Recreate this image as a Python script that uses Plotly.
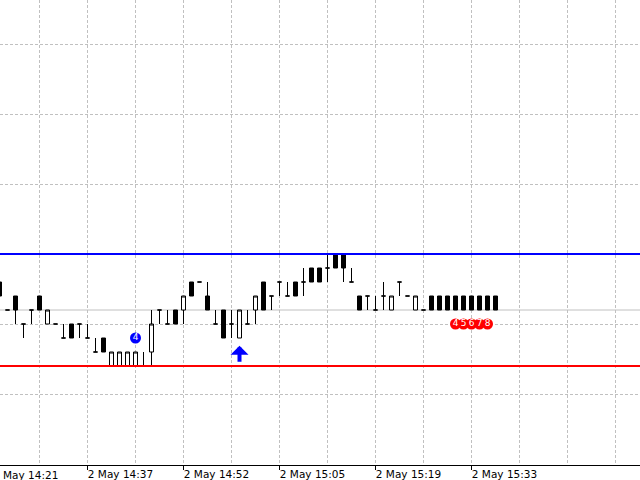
import plotly.graph_objects as go

# ---- data (price expressed in tick levels above the support line) ----
bar_index = list(range(63))
opens  = [6,4,5,3,4,5,3,3,2,3,3,2,1,2,0,0,0,0,0,1,4,3,4,4,6,6,5,3,4,3,2,3,4,6,5,6,5,6,6,7,7,7,8,8,6,5,5,4,5,4,6,5,4,4,5,5,5,5,5,5,5,5,5]
highs  = [6,4,5,3,4,5,4,3,3,3,3,3,2,2,1,1,1,1,1,4,4,4,4,5,6,6,6,4,4,4,4,4,5,6,5,6,6,6,7,7,7,8,8,8,7,5,5,5,6,5,6,5,5,4,5,5,5,5,5,5,5,5,5]
lows   = [5,4,3,2,3,4,3,3,2,2,2,2,1,1,0,0,0,0,0,0,3,3,3,3,5,6,4,3,2,2,2,3,3,4,4,5,5,5,5,6,6,6,7,6,6,4,4,4,4,4,5,5,4,4,4,4,4,4,4,4,4,4,4]
closes = [5,4,4,3,4,4,4,3,2,2,3,2,1,1,1,1,1,1,0,3,4,3,3,5,5,6,4,3,2,3,4,3,5,4,5,6,5,5,6,6,6,7,7,7,6,4,5,4,5,5,6,5,5,4,4,4,4,4,4,4,4,4,4]

resistance_level = 8
support_level = 0
bid_level = 4

tick_idx = [-1, 11, 23, 35, 47, 59]
tick_text = ["2 May 14:21", "2 May 14:37", "2 May 14:52", "2 May 15:05", "2 May 15:19", "2 May 15:33"]

count_idx = [17, 57, 58, 59, 60, 61]
count_level = [2, 3, 3, 3, 3, 3]
count_text = ["4", "4", "5", "6", "7", "8"]
count_color = ["#0000ff", "#ff0000", "#ff0000", "#ff0000", "#ff0000", "#ff0000"]

arrow_idx = 30
arrow_tip = 1.45
arrow_tail = 0.2

XMIN, XMAX = 0.0625, 80.0625
YMIN, YMAX = -7.071, 26.143

GRID = "#c0c0c0"
FONT = "DejaVu Sans"

fig = go.Figure()

fig.add_trace(go.Candlestick(
    x=bar_index, open=opens, high=highs, low=lows, close=closes,
    increasing=dict(line=dict(color="black", width=1), fillcolor="white"),
    decreasing=dict(line=dict(color="black", width=1), fillcolor="black"),
    whiskerwidth=0, hoverinfo="skip",
))

fig.add_trace(go.Scatter(
    x=count_idx, y=count_level, mode="markers+text",
    marker=dict(size=11, color=count_color, line=dict(width=0)),
    text=count_text, textposition="middle center",
    textfont=dict(family=FONT, size=9, color="white"),
    hoverinfo="skip",
))

fig.add_hline(y=bid_level, line=dict(color=GRID, width=1), layer="below")
fig.add_hline(y=resistance_level, line=dict(color="#0000ff", width=2))
fig.add_hline(y=support_level, line=dict(color="#ff0000", width=2))

fig.add_annotation(
    x=arrow_idx, y=arrow_tip, ax=arrow_idx, ay=arrow_tail,
    xref="x", yref="y", axref="x", ayref="y", text="",
    showarrow=True, arrowhead=1, arrowsize=0.75, arrowwidth=4, arrowcolor="#0000ff",
)

# the first time label sits left of the visible range (partly cut off)
fig.add_annotation(
    x=(tick_idx[0] - XMIN) / (XMAX - XMIN), y=0, xref="paper", yref="paper",
    xanchor="left", yanchor="top", yshift=-2, xshift=-1,
    text=tick_text[0], showarrow=False,
    font=dict(family=FONT, size=10.5, color="black"),
)

fig.update_layout(
    width=640, height=480,
    margin=dict(l=0, r=0, t=0, b=15, autoexpand=False),
    plot_bgcolor="white", paper_bgcolor="white",
    showlegend=False,
    xaxis=dict(
        range=[XMIN, XMAX], rangeslider=dict(visible=False), automargin=False,
        tickmode="array", tickvals=tick_idx[1:], ticktext=tick_text[1:],
        ticks="outside", ticklen=4, tickcolor="black",
        ticklabelshift=33, ticklabelstandoff=-5,
        tickfont=dict(family=FONT, size=10.5, color="black"),
        showline=True, linecolor="black", linewidth=1,
        showgrid=True, gridcolor=GRID, griddash="3px,2px", gridwidth=1,
        minor=dict(tickmode="linear", tick0=5, dtick=6, showgrid=True,
                   gridcolor=GRID, griddash="3px,2px", gridwidth=1, ticks=""),
        zeroline=False,
    ),
    yaxis=dict(
        range=[YMIN, YMAX], tickmode="linear", tick0=-2, dtick=5, automargin=False,
        showticklabels=False, ticks="",
        showgrid=True, gridcolor=GRID, griddash="3px,2px", gridwidth=1,
        zeroline=False,
    ),
    boxgap=0.5, boxgroupgap=0,
)

fig.write_html(
    "out.html",
    config={"displayModeBar": False},
    post_script="document.body.style.margin='0';document.body.style.padding='0';document.body.style.overflow='hidden';",
)
